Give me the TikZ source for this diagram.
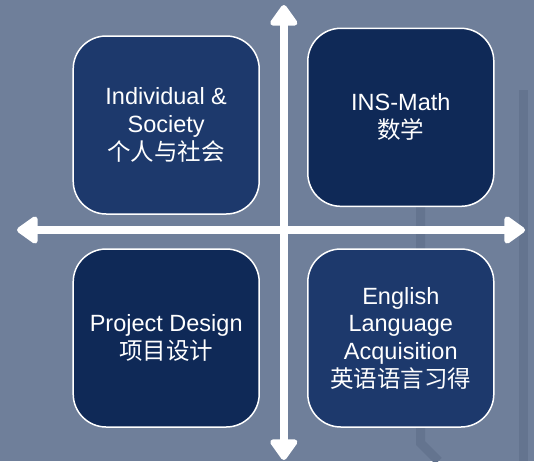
\documentclass[tikz,border=0pt]{standalone}
\usepackage{fontspec}
\setmainfont{Liberation Sans}
\newfontfamily\cjk{Noto Sans CJK SC}
\usetikzlibrary{arrows.meta}

\definecolor{slate}{HTML}{6F7F9A}
\definecolor{slatedark}{HTML}{64748F}
\definecolor{navylight}{HTML}{1D396C}
\definecolor{navydark}{HTML}{0F2957}

\begin{document}
\begin{tikzpicture}[x=1pt,y=-1pt]
   \tikzstyle{every node}=[draw=white, line width=1.5pt, rounded corners=33pt, text=white, align=center,
      minimum width=186pt, minimum height=178pt, font=\fontsize{23.5}{27.7}\selectfont]
   \tikzstyle{light}=[fill=navylight]
   \tikzstyle{dark}=[fill=navydark]
   \tikzstyle{axis}=[white, line width=8.4pt, {Triangle[width=31pt,length=23pt,round]}-{Triangle[width=31pt,length=23pt,round]}]

% background
\fill[slate] (0,0) rectangle (534,461);
\useasboundingbox (0,0) rectangle (534,461);
\draw[slatedark, line width=9pt] (523.5,90) -- (523.5,461);
\draw[slatedark, line width=9pt] (420.5,200) -- (420.5,443) -- (438.5,461);

% quadrants
\node[light] (ind)  at (166.2,125)   {Individual \&\\Society\\{\cjk 个人与社会}};
\node[dark]  (math) at (400.8,117.3) {INS-Math\\{\cjk 数学}};
\node[dark]  (proj) at (166.2,338)   {Project Design\\{\cjk 项目设计}};
\node[light] (eng)  at (400.8,338)   {English\\Language\\Acquisition\\{\cjk 英语语言习得}};

% axes
\coordinate (top) at (283.8,5);
\coordinate (bottom) at (283.8,460);
\coordinate (left) at (17,230);
\coordinate (right) at (525,230);
\draw[axis] (bottom) -- (top);
\draw[axis] (left) -- (right);

\end{tikzpicture}
\end{document}
